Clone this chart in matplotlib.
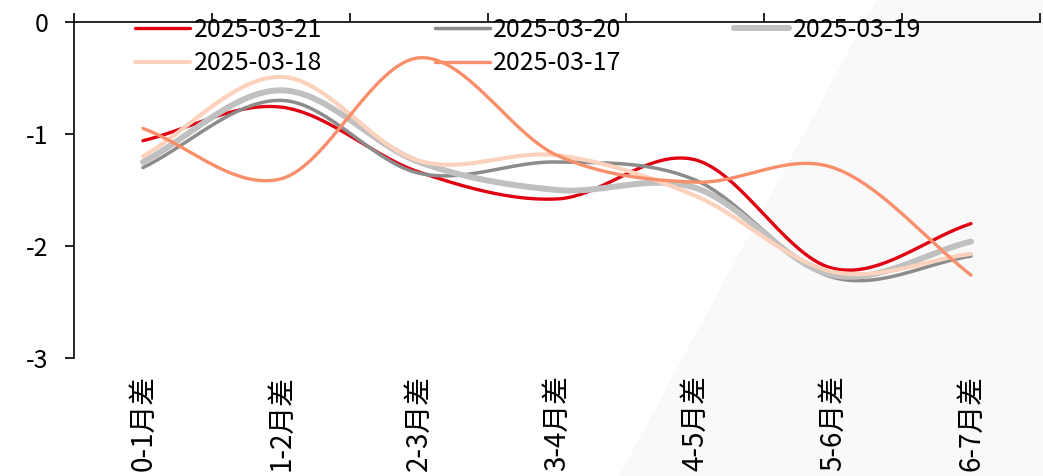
import numpy as np
import matplotlib.pyplot as plt
from matplotlib.patches import Polygon

plt.rcParams['font.family'] = ['Noto Sans CJK SC', 'DejaVu Sans']

# month-spread categories
categories = ['0-1月差', '1-2月差', '2-3月差', '3-4月差', '4-5月差', '5-6月差', '6-7月差']

# spread values per trading day
d0321 = [-1.06, -0.76, -1.34, -1.58, -1.23, -2.20, -1.80]
d0320 = [-1.30, -0.70, -1.35, -1.25, -1.41, -2.28, -2.09]
d0319 = [-1.25, -0.61, -1.25, -1.50, -1.48, -2.26, -1.96]
d0318 = [-1.20, -0.49, -1.24, -1.19, -1.55, -2.23, -2.07]
d0317 = [-0.95, -1.40, -0.32, -1.19, -1.43, -1.30, -2.26]

y_ticks = [0, -1, -2, -3]
y_ticklabels = ['0', '-1', '-2', '-3']


def smooth(y, n=40):
    """Catmull-Rom curve through the given points (like a smoothed Excel line)."""
    y = np.asarray(y, dtype=float)
    p = np.concatenate([[2*y[0]-y[1]], y, [2*y[-1]-y[-2]]])
    xs, ys = [], []
    for i in range(len(y)-1):
        t = np.linspace(0, 1, n, endpoint=(i == len(y)-2))
        p0, p1, p2, p3 = p[i], p[i+1], p[i+2], p[i+3]
        seg = 0.5*((2*p1) + (-p0+p2)*t + (2*p0-5*p1+4*p2-p3)*t**2 + (-p0+3*p1-3*p2+p3)*t**3)
        xs.append(i+t)
        ys.append(seg)
    return np.concatenate(xs), np.concatenate(ys)


fig = plt.figure(figsize=(10.43, 4.76), dpi=100)

# light grey band in the lower right corner
band = Polygon([[876/1043, 1], [1, 1], [1, 0], [619/1043, 0]], closed=True,
               transform=fig.transFigure, facecolor='#f9f9f9', edgecolor='none', zorder=-1)
fig.patches.append(band)

ax = fig.add_axes([74/1043, 1-358/476, 966/1043, 336/476])
ax.set_zorder(1)
ax.patch.set_alpha(0)

series = [
    ('2025-03-21', d0321, '#e00012', 2.4),
    ('2025-03-20', d0320, '#8c8c8c', 2.5),
    ('2025-03-19', d0319, '#c0c0c0', 4.3),
    ('2025-03-18', d0318, '#fcd2bd', 3.0),
    ('2025-03-17', d0317, '#f88f6a', 2.4),
]
lines = []
for label, vals, color, lw in series:
    xs, ys = smooth(vals)
    ln, = ax.plot(xs, ys, color=color, lw=lw, label=label, solid_capstyle='round')
    lines.append(ln)

ax.set_xlim(-0.5, 6.5)
ax.set_ylim(-3, 0)

ax.spines['right'].set_visible(False)
ax.spines['bottom'].set_visible(False)
ax.spines['top'].set_linewidth(1.2)
ax.spines['left'].set_linewidth(1.2)

ax.set_yticks(y_ticks)
ax.set_yticklabels(y_ticklabels)
ax.tick_params(axis='y', direction='out', length=6.5, width=1.2, pad=12, labelsize=18)

ax.set_xticks(range(len(categories)))
ax.set_xticklabels(categories, rotation=90, fontsize=20)
ax.tick_params(axis='x', which='major', length=0, pad=12)
ax.set_xticks(np.arange(-0.5, 7, 1), minor=True)
ax.tick_params(axis='x', which='minor', top=True, bottom=False, direction='out',
               length=6.5, width=1.2)

# legend filled row by row: 21 20 19 / 18 17
order = [0, 3, 1, 4, 2]
ax.legend([lines[i] for i in order], [series[i][0] for i in order],
          loc='upper left', bbox_to_anchor=(135/1043, 1-17/476), bbox_transform=fig.transFigure,
          ncol=3, frameon=False, fontsize=18, handlelength=2.2, handletextpad=0.15,
          columnspacing=4.5, labelspacing=0.3, borderpad=0, borderaxespad=0)

fig.savefig('out.png', dpi=100)
